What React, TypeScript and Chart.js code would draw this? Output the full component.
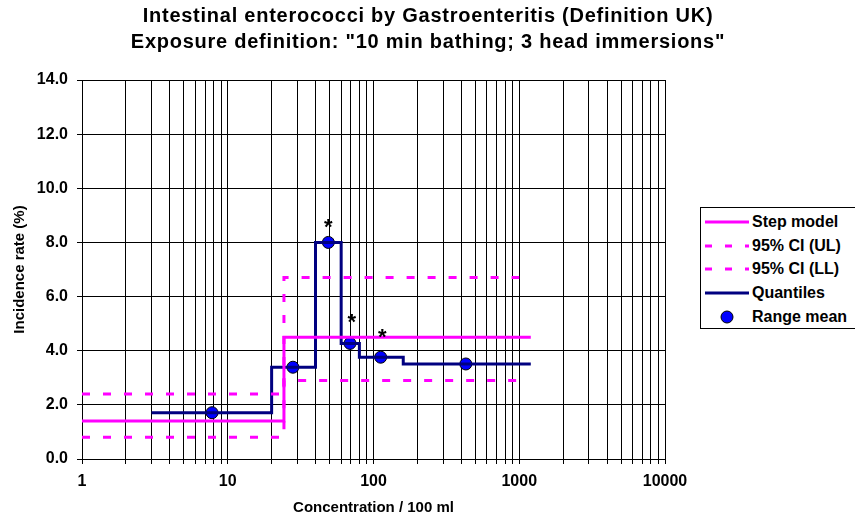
import React, { useEffect, useRef } from "react";
import { Chart, registerables } from "chart.js";

Chart.register(...registerables);

// ---- Data ----
const titleLines = [
  "Intestinal enterococci by Gastroenteritis (Definition UK)",
  'Exposure definition: "10 min bathing; 3 head immersions"',
];
const xAxisTitle = "Concentration / 100 ml";
const yAxisTitle = "Incidence rate (%)";

const majorXTicks = [1, 10, 100, 1000, 10000];
const minorMultipliers = [2, 3, 4, 5, 6, 7, 8, 9];

const stepModelX = [1, 24.3, 1200];
const stepModelY = [1.4, 4.5, 4.5];

const ciUpperX = [1, 24.3, 1000];
const ciUpperY = [2.4, 6.7, 6.7];

const ciLowerX = [1, 24.3, 1000];
const ciLowerY = [0.8, 2.9, 2.9];

const quantileX = [3, 20, 40, 60, 80, 160, 1200];
const quantileY = [1.71, 3.39, 8.0, 4.27, 3.76, 3.51, 3.51];

const rangeMeanX = [7.8, 28, 49, 69, 112, 430];
const rangeMeanY = [1.71, 3.39, 8.0, 4.27, 3.76, 3.51];

const starX = [49, 71, 115];
const starY = [8.75, 5.25, 4.7];

const legendItems = [
  { label: "Step model", kind: "solid", color: "#FF00FF" },
  { label: "95% CI (UL)", kind: "dash", color: "#FF00FF" },
  { label: "95% CI (LL)", kind: "dash", color: "#FF00FF" },
  { label: "Quantiles", kind: "solid", color: "#000080" },
  { label: "Range mean", kind: "point", color: "#0000FF" },
];

const FONT = "'Liberation Sans', Arial, Helvetica, sans-serif";

const zip = (xs: number[], ys: number[]) => xs.map((x, i) => ({ x, y: ys[i] }));

const allXTicks: number[] = [];
majorXTicks.forEach((m, i) => {
  allXTicks.push(m);
  if (i < majorXTicks.length - 1) minorMultipliers.forEach((k) => allXTicks.push(m * k));
});

const decorPlugin = {
  id: "decor",
  afterDatasetsDraw(chart: any) {
    const { ctx, scales } = chart;
    ctx.save();
    ctx.fillStyle = "#000";
    ctx.font = `bold 22px ${FONT}`;
    ctx.textAlign = "center";
    ctx.textBaseline = "alphabetic";
    starX.forEach((x, i) => {
      const px = scales.x.getPixelForValue(x);
      const py = scales.y.getPixelForValue(starY[i]);
      ctx.fillText("*", px, py + 12);
    });
    ctx.restore();
  },
  afterDraw(chart: any) {
    const { ctx } = chart;
    ctx.save();
    ctx.fillStyle = "#000";
    ctx.font = `bold 20px ${FONT}`;
    try {
      (ctx as any).letterSpacing = "0.75px";
    } catch (e) {}
    ctx.textAlign = "center";
    ctx.textBaseline = "alphabetic";
    ctx.fillText(titleLines[0], 428, 22);
    ctx.fillText(titleLines[1], 428, 48);
    ctx.restore();
  },
};

function Legend() {
  return (
    <div
      style={{
        position: "absolute",
        left: 700,
        top: 207,
        width: 160,
        height: 122,
        border: "1px solid #000",
        background: "#fff",
        boxSizing: "border-box",
        fontFamily: FONT,
        fontWeight: "bold",
        fontSize: 16,
        color: "#000",
      }}
    >
      {legendItems.map((it, i) => (
        <div
          key={i}
          style={{
            position: "absolute",
            left: 0,
            top: 4 + i * 23.7,
            height: 20,
            display: "flex",
            alignItems: "center",
            whiteSpace: "nowrap",
          }}
        >
          <svg width={50} height={20} style={{ display: "block" }}>
            {it.kind === "solid" && (
              <line x1={4} y1={10} x2={48} y2={10} stroke={it.color} strokeWidth={3} />
            )}
            {it.kind === "dash" && (
              <line
                x1={4}
                y1={10}
                x2={48}
                y2={10}
                stroke={it.color}
                strokeWidth={3}
                strokeDasharray="7 13"
              />
            )}
            {it.kind === "point" && (
              <circle cx={26} cy={10} r={6} fill={it.color} stroke="#000" strokeWidth={1} />
            )}
          </svg>
          <span style={{ marginLeft: 1 }}>{it.label}</span>
        </div>
      ))}
    </div>
  );
}

export default function App() {
  const ref = useRef<HTMLCanvasElement | null>(null);

  useEffect(() => {
    if (!ref.current) return;
    const lineCommon = {
      type: "line" as const,
      pointRadius: 0,
      pointHoverRadius: 0,
      fill: false,
      stepped: true,
      tension: 0,
      borderWidth: 3,
    };
    const chart = new Chart(ref.current, {
      type: "line",
      data: {
        datasets: [
          {
            ...lineCommon,
            label: "95% CI (UL)",
            data: zip(ciUpperX, ciUpperY),
            borderColor: "#FF00FF",
            borderDash: [8, 13],
            borderCapStyle: "butt",
          },
          {
            ...lineCommon,
            label: "95% CI (LL)",
            data: zip(ciLowerX, ciLowerY),
            borderColor: "#FF00FF",
            borderDash: [8, 13],
            borderCapStyle: "butt",
          },
          {
            ...lineCommon,
            label: "Step model",
            data: zip(stepModelX, stepModelY),
            borderColor: "#FF00FF",
          },
          {
            ...lineCommon,
            label: "Quantiles",
            data: zip(quantileX, quantileY),
            borderColor: "#000080",
          },
          {
            type: "scatter" as const,
            label: "Range mean",
            data: zip(rangeMeanX, rangeMeanY),
            pointRadius: 6,
            pointBackgroundColor: "#0000FF",
            pointBorderColor: "#000",
            pointBorderWidth: 1,
            showLine: false,
          } as any,
        ],
      } as any,
      options: {
        animation: false,
        responsive: false,
        maintainAspectRatio: false,
        devicePixelRatio: 1,
        layout: { padding: { top: 80, right: 190, bottom: 0, left: 0 } },
        plugins: {
          legend: { display: false },
          title: { display: false },
          tooltip: { enabled: false },
        },
        scales: {
          x: {
            type: "logarithmic",
            min: 1,
            max: 10000,
            afterBuildTicks: (scale: any) => {
              scale.ticks = allXTicks.map((v) => ({ value: v, major: majorXTicks.includes(v) }));
            },
            afterFit: (scale: any) => {
              scale.height = 68;
            },
            ticks: {
              autoSkip: false,
              maxRotation: 0,
              minRotation: 0,
              padding: 8,
              color: "#000",
              font: { family: FONT, size: 16, weight: "bold" },
              callback: (v: any) => (majorXTicks.includes(Number(v)) ? String(v) : ""),
            },
            grid: { color: "#000", lineWidth: 1, tickLength: 5, drawTicks: true },
            border: { color: "#000", width: 1 },
            title: {
              display: true,
              text: xAxisTitle,
              color: "#000",
              font: { family: FONT, size: 15, weight: "bold" },
              padding: { top: 0, bottom: 10 },
            },
          },
          y: {
            type: "linear",
            min: 0,
            max: 14,
            afterFit: (scale: any) => {
              scale.width = 82;
            },
            ticks: {
              stepSize: 2,
              padding: 9,
              color: "#000",
              font: { family: FONT, size: 16, weight: "bold" },
              callback: (v: any) => Number(v).toFixed(1),
            },
            grid: { color: "#000", lineWidth: 1, tickLength: 5, drawTicks: true },
            border: { color: "#000", width: 1 },
            title: {
              display: true,
              text: yAxisTitle,
              color: "#000",
              font: { family: FONT, size: 15, weight: "bold" },
              padding: { top: 11, bottom: 0 },
            },
          },
        },
      } as any,
      plugins: [decorPlugin],
    });
    return () => chart.destroy();
  }, []);

  return (
    <div
      style={{
        position: "fixed",
        left: 0,
        top: 0,
        width: 855,
        height: 527,
        background: "#fff",
        overflow: "hidden",
      }}
    >
      <canvas ref={ref} width={855} height={527} style={{ display: "block" }} />
      <Legend />
    </div>
  );
}
